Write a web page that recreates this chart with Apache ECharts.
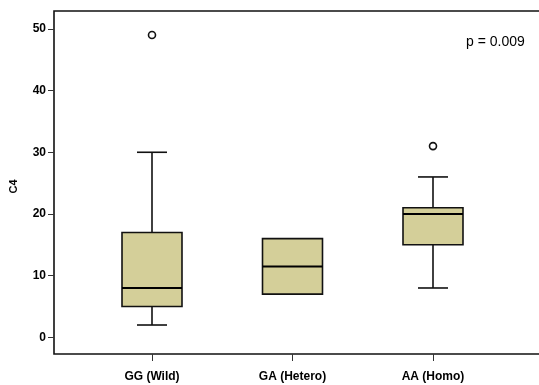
<!DOCTYPE html>
<html>
<head>
<meta charset="utf-8">
<script src="https://cdn.jsdelivr.net/npm/echarts@6/dist/echarts.min.js"></script>
<style>html,body{margin:0;padding:0;background:#fff;}#c{width:539px;height:385px;}</style>
</head>
<body>
<div id="c"></div>
<script>
// Data
var categories = ['GG (Wild)', 'GA (Hetero)', 'AA (Homo)'];
// [min whisker, Q1, median, Q3, max whisker]
var boxGG = [2, 5, 8, 17, 30];
var boxGA = [7, 7, 11.5, 16, 16];
var boxAA = [8, 15, 20, 21, 26];
var outliers = [[0, 49], [2, 31]];
var yTicks = [0, 10, 20, 30, 40, 50];
var yMin = -2.7, yMax = 52.9;
var pText = 'p = 0.009';
var yName = 'C4';

var boxes = [boxGG, boxGA, boxAA].map(function (b, i) { return [i].concat(b); });

var font = 'Liberation Sans, Arial, sans-serif';
var chart = echarts.init(document.getElementById('c'), null, { renderer: 'canvas' });

chart.setOption({
  animation: false,
  backgroundColor: '#fff',
  grid: [
    { left: 54, top: 11, right: -3, bottom: 31, show: true, borderColor: '#111', borderWidth: 1.6, backgroundColor: 'transparent', containLabel: false, outerBoundsMode: 'none' },
    { left: 81.75, top: 11, right: 35.75, bottom: 31, containLabel: false, outerBoundsMode: 'none' }
  ],
  xAxis: [
    { type: 'value', gridIndex: 0, min: 0, max: 1, show: false },
    {
      type: 'category', gridIndex: 1, data: categories, boundaryGap: true, position: 'bottom',
      axisLine: { show: false, onZero: false },
      axisTick: { show: true, alignWithLabel: true, length: 7, lineStyle: { color: '#333', width: 1 } },
      axisLabel: { margin: 17, color: '#000', fontFamily: font, fontWeight: 'bold', fontSize: 12 },
      splitLine: { show: false }
    }
  ],
  yAxis: [
    {
      type: 'value', gridIndex: 0, min: yMin, max: yMax, position: 'left',
      name: yName, nameLocation: 'middle', nameGap: 35, nameRotate: 90,
      nameTextStyle: { color: '#000', fontFamily: font, fontWeight: 'bold', fontSize: 11, padding: [0, 8, 0, 0] },
      axisLine: { show: false, onZero: false },
      axisTick: { show: true, length: 6, customValues: yTicks, lineStyle: { color: '#333', width: 1 } },
      axisLabel: { margin: 8, customValues: yTicks, color: '#000', fontFamily: font, fontWeight: 'bold', fontSize: 12 },
      splitLine: { show: false }
    },
    { type: 'value', gridIndex: 1, min: yMin, max: yMax, show: false }
  ],
  graphic: [
    { type: 'text', x: 466, y: 42, style: { text: pText, fill: '#000', font: '14px ' + font, verticalAlign: 'middle' } }
  ],
  series: [
    {
      type: 'custom', xAxisIndex: 1, yAxisIndex: 1, data: boxes,
      encode: { x: 0, y: [1, 2, 3, 4, 5] },
      renderItem: function (params, api) {
        var c = api.value(0);
        var band = api.size([1, 0])[0];
        var bw = band * 0.427;
        var cw = bw / 2;
        var pMin = api.coord([c, api.value(1)]);
        var pQ1 = api.coord([c, api.value(2)]);
        var pMed = api.coord([c, api.value(3)]);
        var pQ3 = api.coord([c, api.value(4)]);
        var pMax = api.coord([c, api.value(5)]);
        var x = pMed[0];
        var ls = { stroke: '#111', lineWidth: 1.6 };
        var ch = [];
        if (api.value(1) < api.value(2)) {
          ch.push({ type: 'line', shape: { x1: x, y1: pQ1[1], x2: x, y2: pMin[1] }, style: ls });
          ch.push({ type: 'line', shape: { x1: x - cw / 2, y1: pMin[1], x2: x + cw / 2, y2: pMin[1] }, style: ls });
        }
        if (api.value(5) > api.value(4)) {
          ch.push({ type: 'line', shape: { x1: x, y1: pQ3[1], x2: x, y2: pMax[1] }, style: ls });
          ch.push({ type: 'line', shape: { x1: x - cw / 2, y1: pMax[1], x2: x + cw / 2, y2: pMax[1] }, style: ls });
        }
        ch.push({ type: 'rect', shape: { x: x - bw / 2, y: pQ3[1], width: bw, height: pQ1[1] - pQ3[1] }, style: { fill: '#d4cf99', stroke: '#111', lineWidth: 1.6 } });
        ch.push({ type: 'line', shape: { x1: x - bw / 2, y1: pMed[1], x2: x + bw / 2, y2: pMed[1] }, style: { stroke: '#000', lineWidth: 2 } });
        return { type: 'group', children: ch };
      }
    },
    {
      type: 'scatter', xAxisIndex: 1, yAxisIndex: 1, data: outliers,
      symbol: 'circle', symbolSize: 7,
      itemStyle: { color: '#fff', borderColor: '#111', borderWidth: 1.6, opacity: 1 }
    }
  ]
});
</script>
</body>
</html>
